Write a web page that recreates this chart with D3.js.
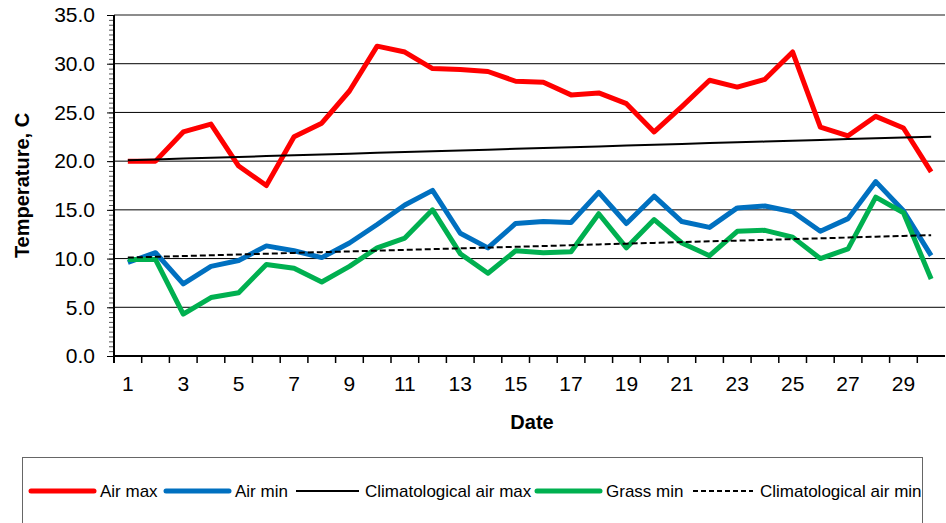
<!DOCTYPE html>
<html>
<head>
<meta charset="utf-8">
<script src="https://cdn.jsdelivr.net/npm/d3@7"></script>
<style>
  body { margin: 0; background: #fff; }
  svg { display: block; font-family: "Liberation Sans", Arial, sans-serif; }
</style>
</head>
<body>
<svg class="chart"></svg>
<script>
const days = [1, 2, 3, 4, 5, 6, 7, 8, 9, 10, 11, 12, 13, 14, 15,
  16, 17, 18, 19, 20, 21, 22, 23, 24, 25, 26, 27, 28, 29, 30];
const airMax = [20.0, 20.0, 23.0, 23.8, 19.5, 17.5, 22.5, 23.9, 27.2, 31.8,
  31.2, 29.5, 29.4, 29.2, 28.2, 28.1, 26.8, 27.0, 25.9, 23.0,
  25.6, 28.3, 27.6, 28.4, 31.2, 23.5, 22.6, 24.6, 23.4, 18.9];
const airMin = [9.6, 10.6, 7.4, 9.2, 9.8, 11.3, 10.8, 10.1, 11.6, 13.5,
  15.5, 17.0, 12.6, 11.1, 13.6, 13.8, 13.7, 16.8, 13.6, 16.4,
  13.8, 13.2, 15.2, 15.4, 14.8, 12.8, 14.1, 17.9, 14.9, 10.3];
const grassMin = [9.9, 9.9, 4.3, 6.0, 6.5, 9.4, 9.0, 7.6, 9.2, 11.1,
  12.1, 15.0, 10.5, 8.5, 10.8, 10.6, 10.7, 14.6, 11.1, 14.0,
  11.6, 10.3, 12.8, 12.9, 12.2, 10.0, 11.0, 16.3, 14.7, 7.9];
const climMax = [20.10, 20.18, 20.27, 20.35, 20.43, 20.52, 20.60, 20.68, 20.77, 20.85,
  20.93, 21.01, 21.10, 21.18, 21.26, 21.35, 21.43, 21.51, 21.60, 21.68,
  21.76, 21.85, 21.93, 22.01, 22.10, 22.18, 22.26, 22.34, 22.43, 22.51];
const climMin = [10.10, 10.18, 10.26, 10.34, 10.42, 10.50, 10.58, 10.66, 10.73, 10.81,
  10.89, 10.97, 11.05, 11.13, 11.21, 11.29, 11.37, 11.45, 11.53, 11.61,
  11.69, 11.77, 11.84, 11.92, 12.00, 12.08, 12.16, 12.24, 12.32, 12.40];
const yTicks = [0, 5, 10, 15, 20, 25, 30, 35];
const xLabels = [1, 3, 5, 7, 9, 11, 13, 15, 17, 19, 21, 23, 25, 27, 29];

const series = [
  {name: 'Air max', values: airMax, color: '#ff0000', width: 5, dash: null},
  {name: 'Air min', values: airMin, color: '#0070c0', width: 5, dash: null},
  {name: 'Climatological air max', values: climMax, color: '#000', width: 2, dash: null},
  {name: 'Grass min', values: grassMin, color: '#00b050', width: 5, dash: null},
  {name: 'Climatological air min', values: climMin, color: '#000', width: 2, dash: '6,3'},
];

const W = 946, H = 523;
const margin = {top: 15, right: 1, bottom: 167, left: 114};
const width = W - margin.left - margin.right;
const height = H - margin.top - margin.bottom;

const svg = d3.select('.chart')
  .attr('width', W)
  .attr('height', H);

const chart = svg.append('g')
  .attr('transform', `translate(${margin.left}, ${margin.top})`);

const x = d3.scaleBand()
  .domain(days)
  .range([0, width]);

const y = d3.scaleLinear()
  .domain([0, 35])
  .range([height, 0]);

// gridlines
chart.append('g')
  .selectAll('line')
  .data(yTicks.filter(d => d > 0 && d < 35))
  .enter()
.append('line')
  .attr('x1', 0)
  .attr('x2', width)
  .attr('y1', d => y(d))
  .attr('y2', d => y(d))
  .attr('stroke', '#000')
  .attr('stroke-width', 1);

// top border
chart.append('line')
  .attr('x1', 0)
  .attr('x2', width)
  .attr('y1', y(35))
  .attr('y2', y(35))
  .attr('stroke', '#8c8c8c')
  .attr('stroke-width', 2);

// minor ticks every 0.5
chart.append('g')
  .attr('class', 'y minor')
  .call(d3.axisLeft(y).tickValues(d3.range(0, 35.01, 0.5)).tickSize(5).tickFormat(''))
  .call(g => g.select('.domain').remove())
  .call(g => g.selectAll('line').attr('stroke', '#555'));

// y axis
chart.append('g')
  .attr('class', 'y axis')
  .call(d3.axisLeft(y).tickValues(yTicks).tickSize(7).tickPadding(12).tickFormat(d3.format('.1f')))
  .call(g => g.select('.domain').attr('stroke-width', 2).attr('d', `M0,${height + 7}V0`))
  .call(g => g.selectAll('text').attr('font-size', 21).attr('fill', '#000').attr('font-family', 'Liberation Sans, Arial'));

// x axis
const xAxis = chart.append('g')
  .attr('class', 'x axis')
  .attr('transform', `translate(0, ${height})`);

xAxis.append('line')
  .attr('x1', 0)
  .attr('x2', width)
  .attr('stroke', '#000')
  .attr('stroke-width', 2);

xAxis.selectAll('.tick')
  .data(days)
  .enter()
.append('line')
  .attr('x1', d => x(d))
  .attr('x2', d => x(d))
  .attr('y1', 0)
  .attr('y2', 7)
  .attr('stroke', '#000')
  .attr('stroke-width', 1.5);

xAxis.selectAll('.lbl')
  .data(xLabels)
  .enter()
.append('text')
  .attr('x', d => x(d) + x.bandwidth() / 2)
  .attr('y', 35)
  .attr('text-anchor', 'middle')
  .attr('font-size', 21)
  .text(d => d);

// lines
const line = vals => d3.line()
  .x((d, i) => x(days[i]) + x.bandwidth() / 2)
  .y(d => y(d))(vals);

chart.selectAll('.series')
  .data(series)
  .enter()
.append('path')
  .attr('class', 'series')
  .attr('d', d => line(d.values))
  .attr('fill', 'none')
  .attr('stroke', d => d.color)
  .attr('stroke-width', d => d.width)
  .attr('stroke-dasharray', d => d.dash)
  .attr('stroke-linejoin', 'round');

// titles
svg.append('text')
  .attr('transform', `translate(29, ${margin.top + height / 2}) rotate(-90)`)
  .attr('text-anchor', 'middle')
  .attr('font-size', 20)
  .attr('font-weight', 'bold')
  .text('Temperature, C');

svg.append('text')
  .attr('x', 532)
  .attr('y', 429)
  .attr('text-anchor', 'middle')
  .attr('font-size', 20)
  .attr('font-weight', 'bold')
  .text('Date');

// legend
const legend = svg.append('g');
legend.append('rect')
  .attr('x', 22.5)
  .attr('y', 457.5)
  .attr('width', 900)
  .attr('height', 80)
  .attr('fill', 'none')
  .attr('stroke', '#666')
  .attr('stroke-width', 1);

const legendX = [31, 166, 296, 537, 693];
const items = legend.selectAll('.item')
  .data(series)
  .enter()
.append('g')
  .attr('transform', (d, i) => `translate(${legendX[i]}, 491)`);

items.append('line')
  .attr('x1', 0)
  .attr('x2', (d, i) => i === 4 ? 60 : 63)
  .attr('stroke', d => d.color)
  .attr('stroke-width', d => d.width === 5 ? 5 : 2)
  .attr('stroke-dasharray', d => d.dash ? '5,3' : null)
  .attr('stroke-linecap', d => d.width === 5 ? 'round' : 'butt');

items.append('text')
  .attr('x', (d, i) => i === 4 ? 67 : 69)
  .attr('y', 6)
  .attr('font-size', 17)
  .text(d => d.name);
</script>
</body>
</html>
